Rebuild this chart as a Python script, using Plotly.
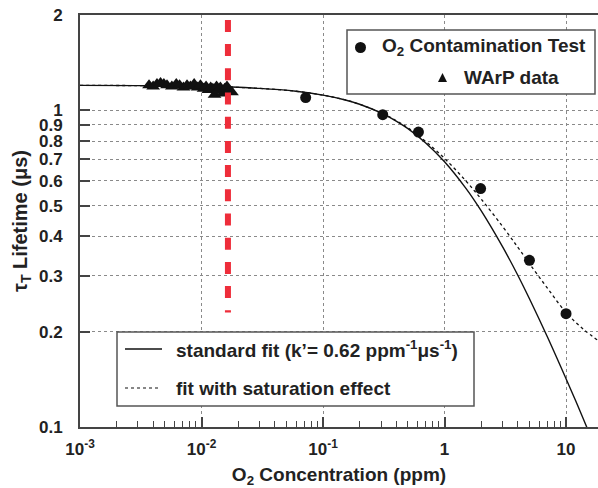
import plotly.graph_objects as go

# ---------------- data ----------------
o2_conc = [0.072, 0.31, 0.61, 1.98, 5.0, 10.0]
o2_tau = [1.097, 0.969, 0.854, 0.566, 0.336, 0.228]

warp_conc = [0.0037, 0.0040, 0.0043, 0.0046, 0.0049, 0.0052, 0.0057, 0.0062,
             0.0066, 0.0071, 0.0076, 0.0081, 0.0087, 0.0093, 0.0098, 0.0104,
             0.0109, 0.0114, 0.0119, 0.0124, 0.0128, 0.0133, 0.0138, 0.0143,
             0.0149, 0.0155, 0.0162, 0.0170, 0.0178]
warp_tau = [1.20, 1.19, 1.21, 1.22, 1.21, 1.20, 1.19, 1.21,
            1.20, 1.18, 1.20, 1.19, 1.21, 1.18, 1.20, 1.17,
            1.19, 1.16, 1.18, 1.17, 1.12, 1.19, 1.16, 1.18,
            1.13, 1.17, 1.19, 1.15, 1.14]

fit_conc = [0.001, 0.003, 0.01, 0.03, 0.06, 0.1, 0.15, 0.2, 0.3, 0.4, 0.5,
            0.7, 1.0, 1.5, 2.0, 3.0, 4.0, 5.0, 7.0, 10.0, 12.0, 15.0]
fit_standard = [1.199, 1.197, 1.191, 1.173, 1.149, 1.117, 1.080, 1.045, 0.981,
                0.925, 0.875, 0.789, 0.688, 0.567, 0.482, 0.371, 0.302, 0.254,
                0.193, 0.142, 0.121, 0.0987]

sat_conc = [0.001, 0.003, 0.01, 0.03, 0.06, 0.1, 0.15, 0.2, 0.3, 0.4, 0.5,
            0.7, 1.0, 1.5, 2.0, 3.0, 4.0, 5.0, 7.0, 10.0, 14.0, 19.0]
fit_saturation = [1.199, 1.197, 1.191, 1.173, 1.149, 1.117, 1.080, 1.045, 0.982,
                  0.928, 0.880, 0.797, 0.705, 0.598, 0.525, 0.430, 0.370, 0.328,
                  0.275, 0.230, 0.203, 0.186]

cut_conc = [0.0165, 0.0165]
cut_tau = [1.93, 0.23]

x_tickvals = [0.001, 0.01, 0.1, 1, 10]
x_ticktext = ["10<sup>-3</sup>", "10<sup>-2</sup>", "10<sup>-1</sup>", "1", "10"]
y_tickvals = [0.1, 0.2, 0.3, 0.4, 0.5, 0.6, 0.7, 0.8, 0.9, 1, 2]
y_ticktext = ["0.1", "0.2", "0.3", "0.4", "0.5", "0.6", "0.7", "0.8", "0.9", "1", "2"]
x_minor = [m * 10.0 ** e for e in range(-3, 2) for m in range(2, 10)]

legend1_labels = ["O<sub>2</sub> Contamination Test", "WArP data"]
legend2_labels = ["standard fit (k\u2019= 0.62 ppm<sup>-1</sup>\u03bcs<sup>-1</sup>)",
                  "fit with saturation effect"]

# ---------------- layout constants ----------------
W, H = 598, 488
L, T, R, B = 80, 15, 0, 61
PW, PH = W - L - R, H - T - B
FONT = "Liberation Sans"
AX = "#444444"


def px(x):
    return (x - L) / PW


def py(y):
    return (T + PH - y) / PH


fig = go.Figure()

fig.add_trace(go.Scatter(x=fit_conc, y=fit_standard, mode="lines",
                         line=dict(color="#111", width=1.4, shape="spline"),
                         showlegend=False))
fig.add_trace(go.Scatter(x=sat_conc, y=fit_saturation, mode="lines",
                         line=dict(color="#111", width=1.3, dash="3px,3px", shape="spline"),
                         showlegend=False))
fig.add_trace(go.Scatter(x=warp_conc, y=warp_tau, mode="markers",
                         marker=dict(symbol="triangle-up", size=12, color="#111"),
                         showlegend=False))
fig.add_trace(go.Scatter(x=o2_conc, y=o2_tau, mode="markers",
                         marker=dict(symbol="circle", size=11, color="#111"),
                         showlegend=False))
fig.add_trace(go.Scatter(x=cut_conc, y=cut_tau, mode="lines",
                         line=dict(color="#ee2d3a", width=6, dash="12px,12.2px"),
                         showlegend=False))

axis_common = dict(
    type="log", showline=True, linecolor=AX, linewidth=2,
    ticks="inside", ticklen=10, tickwidth=1.5, tickcolor=AX,
    showgrid=True, gridcolor="#8a8a8a", gridwidth=1, griddash="dot",
    zeroline=False,
    tickfont=dict(family=FONT, size=17, color="#222", weight="bold"),
)

fig.update_layout(
    width=W, height=H,
    margin=dict(l=L, r=R, t=T, b=B, autoexpand=False),
    paper_bgcolor="white", plot_bgcolor="white",
    showlegend=False,
    xaxis=dict(axis_common, range=[-3, 1.263], mirror=True,
               tickmode="array", tickvals=x_tickvals, ticktext=x_ticktext,
               ticklabelstandoff=6,
               minor=dict(tickmode="array", tickvals=x_minor, ticks="inside",
                          ticklen=6, tickwidth=1.2, tickcolor=AX, showgrid=False),
               title=dict(text="O<sub>2</sub> Concentration (ppm)", standoff=10,
                          font=dict(family=FONT, size=19, color="#222", weight="bold"))),
    yaxis=dict(axis_common, range=[-1, 0.30103],
               tickmode="array", tickvals=y_tickvals, ticktext=y_ticktext,
               ticklabelstandoff=12,
               title=dict(text="\u03c4<sub>T</sub> Lifetime (\u03bcs)", standoff=6,
                          font=dict(family=FONT, size=20, color="#222", weight="bold"))),
)

shapes = []
# top-right legend box
shapes.append(dict(type="rect", xref="paper", yref="paper",
                   x0=px(347), x1=px(595), y0=py(94), y1=py(30),
                   fillcolor="white", line=dict(color="#555", width=1.5), layer="above"))
shapes.append(dict(type="circle", xref="paper", yref="paper",
                   x0=px(355), x1=px(366), y0=py(53), y1=py(42),
                   fillcolor="#111", line=dict(color="#111", width=0), layer="above"))
shapes.append(dict(type="path", xref="paper", yref="paper",
                   path="M {},{} L {},{} L {},{} Z".format(px(438), py(82), px(447), py(82), px(442.5), py(73)),
                   fillcolor="#111", line=dict(color="#111", width=0), layer="above"))
# bottom-left legend box
shapes.append(dict(type="rect", xref="paper", yref="paper",
                   x0=px(117), x1=px(474), y0=py(406), y1=py(332),
                   fillcolor="white", line=dict(color="#555", width=1.5), layer="above"))
shapes.append(dict(type="line", xref="paper", yref="paper",
                   x0=px(125), x1=px(162), y0=py(349), y1=py(349),
                   line=dict(color="#111", width=1.3), layer="above"))
shapes.append(dict(type="line", xref="paper", yref="paper",
                   x0=px(125), x1=px(161), y0=py(388), y1=py(388),
                   line=dict(color="#111", width=1.2, dash="3px,3px"), layer="above"))
fig.update_layout(shapes=shapes)

lfont = dict(family=FONT, size=19, color="#222", weight="bold")
annotations = [
    dict(text=legend1_labels[0], xref="paper", yref="paper", x=px(380), y=py(47),
         xanchor="left", yanchor="middle", showarrow=False, font=lfont),
    dict(text=legend1_labels[1], xref="paper", yref="paper", x=px(462), y=py(77),
         xanchor="left", yanchor="middle", showarrow=False, font=lfont),
    dict(text=legend2_labels[0], xref="paper", yref="paper", x=px(174), y=py(349),
         xanchor="left", yanchor="middle", showarrow=False, font=lfont),
    dict(text=legend2_labels[1], xref="paper", yref="paper", x=px(174), y=py(388),
         xanchor="left", yanchor="middle", showarrow=False, font=lfont),
]
fig.update_layout(annotations=annotations)

fig.write_html("out.html")
